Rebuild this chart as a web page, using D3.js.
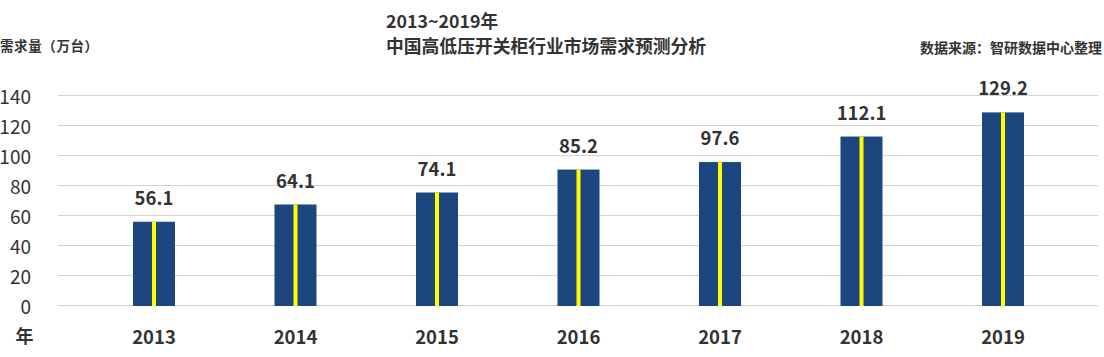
<!DOCTYPE html>
<html>
<head>
<meta charset="utf-8">
<script src="https://cdn.jsdelivr.net/npm/d3@7"></script>
<style>
  html, body { margin: 0; padding: 0; background: #fff; }
  svg { display: block; }
  text { font-family: "Noto Sans CJK SC", "Noto Sans", sans-serif; fill: #333; }
</style>
</head>
<body>
<svg id="chart" width="1104" height="357"></svg>
<script>
// ---- data ----
const years = ["2013", "2014", "2015", "2016", "2017", "2018", "2019"];
const barValues = [55.5, 67, 75, 90.3, 95.3, 112.3, 128.4];      // drawn bar heights (as in picture)
const valueLabels = ["56.1", "64.1", "74.1", "85.2", "97.6", "112.1", "129.2"];
const yTicks = [0, 20, 40, 60, 80, 100, 120, 140];
const titleLines = ["2013~2019年", "中国高低压开关柜行业市场需求预测分析"];
const yAxisTitle = "需求量（万台）";
const xAxisTitle = "年";
const sourceText = "数据来源：智研数据中心整理";

// ---- layout ----
const svg = d3.select("#chart");
const gridLeft = 58, gridRight = 1098;
const y = d3.scaleLinear().domain([0, 140]).range([305, 95]);
const x = d3.scalePoint().domain(years).range([83.25, 1073.75]).padding(0.5);
const barW = 42, stripeW = 4;

// gridlines
svg.append("g").selectAll("line").data(yTicks).join("line")
  .attr("x1", gridLeft).attr("x2", gridRight)
  .attr("y1", d => y(d) + 0.5).attr("y2", d => y(d) + 0.5)
  .attr("stroke", "#d2d2d2").attr("stroke-width", 1);

// y tick labels
svg.append("g").selectAll("text").data(yTicks).join("text")
  .attr("x", 31).attr("y", d => y(d) + 0.5)
  .attr("text-anchor", "end").attr("dominant-baseline", "central")
  .attr("font-size", 19).attr("fill", "#404040")
  .text(d => d);

// bars
const bars = svg.append("g").selectAll("g").data(years).join("g");
bars.append("rect")
  .attr("x", d => x(d) - barW / 2)
  .attr("y", (d, i) => y(barValues[i]))
  .attr("width", barW)
  .attr("height", (d, i) => y(0) + 1 - y(barValues[i]))
  .attr("fill", "#1c467e");
bars.append("rect")
  .attr("x", d => x(d) - stripeW / 2)
  .attr("y", (d, i) => y(barValues[i]))
  .attr("width", stripeW)
  .attr("height", (d, i) => y(0) + 1 - y(barValues[i]))
  .attr("fill", "#ffff00");

// value labels
svg.append("g").selectAll("text").data(years).join("text")
  .attr("x", d => x(d))
  .attr("y", (d, i) => y(barValues[i]) - 25)
  .attr("text-anchor", "middle").attr("dominant-baseline", "central")
  .attr("font-size", 18.5).attr("font-weight", "bold")
  .text((d, i) => valueLabels[i]);

// x labels
svg.append("g").selectAll("text").data(years).join("text")
  .attr("x", d => x(d)).attr("y", 336)
  .attr("text-anchor", "middle").attr("dominant-baseline", "central")
  .attr("font-size", 18.5).attr("font-weight", "bold")
  .text(d => d);

svg.append("text").attr("x", 24.5).attr("y", 335)
  .attr("text-anchor", "middle").attr("dominant-baseline", "central")
  .attr("font-size", 18).attr("font-weight", "bold")
  .text(xAxisTitle);

// titles
svg.append("g").selectAll("text").data(titleLines).join("text")
  .attr("x", 386).attr("y", (d, i) => i === 0 ? 20 : 45)
  .attr("dominant-baseline", "central")
  .attr("font-size", 17.8).attr("font-weight", "bold")
  .text(d => d);

svg.append("text").attr("x", 0).attr("y", 45)
  .attr("dominant-baseline", "central")
  .attr("font-size", 13.5).attr("font-weight", "bold")
  .attr("letter-spacing", 0.6)
  .text(yAxisTitle);

svg.append("text").attr("x", 1102).attr("y", 46.5)
  .attr("text-anchor", "end").attr("dominant-baseline", "central")
  .attr("font-size", 14).attr("font-weight", "bold")
  .text(sourceText);
</script>
</body>
</html>
